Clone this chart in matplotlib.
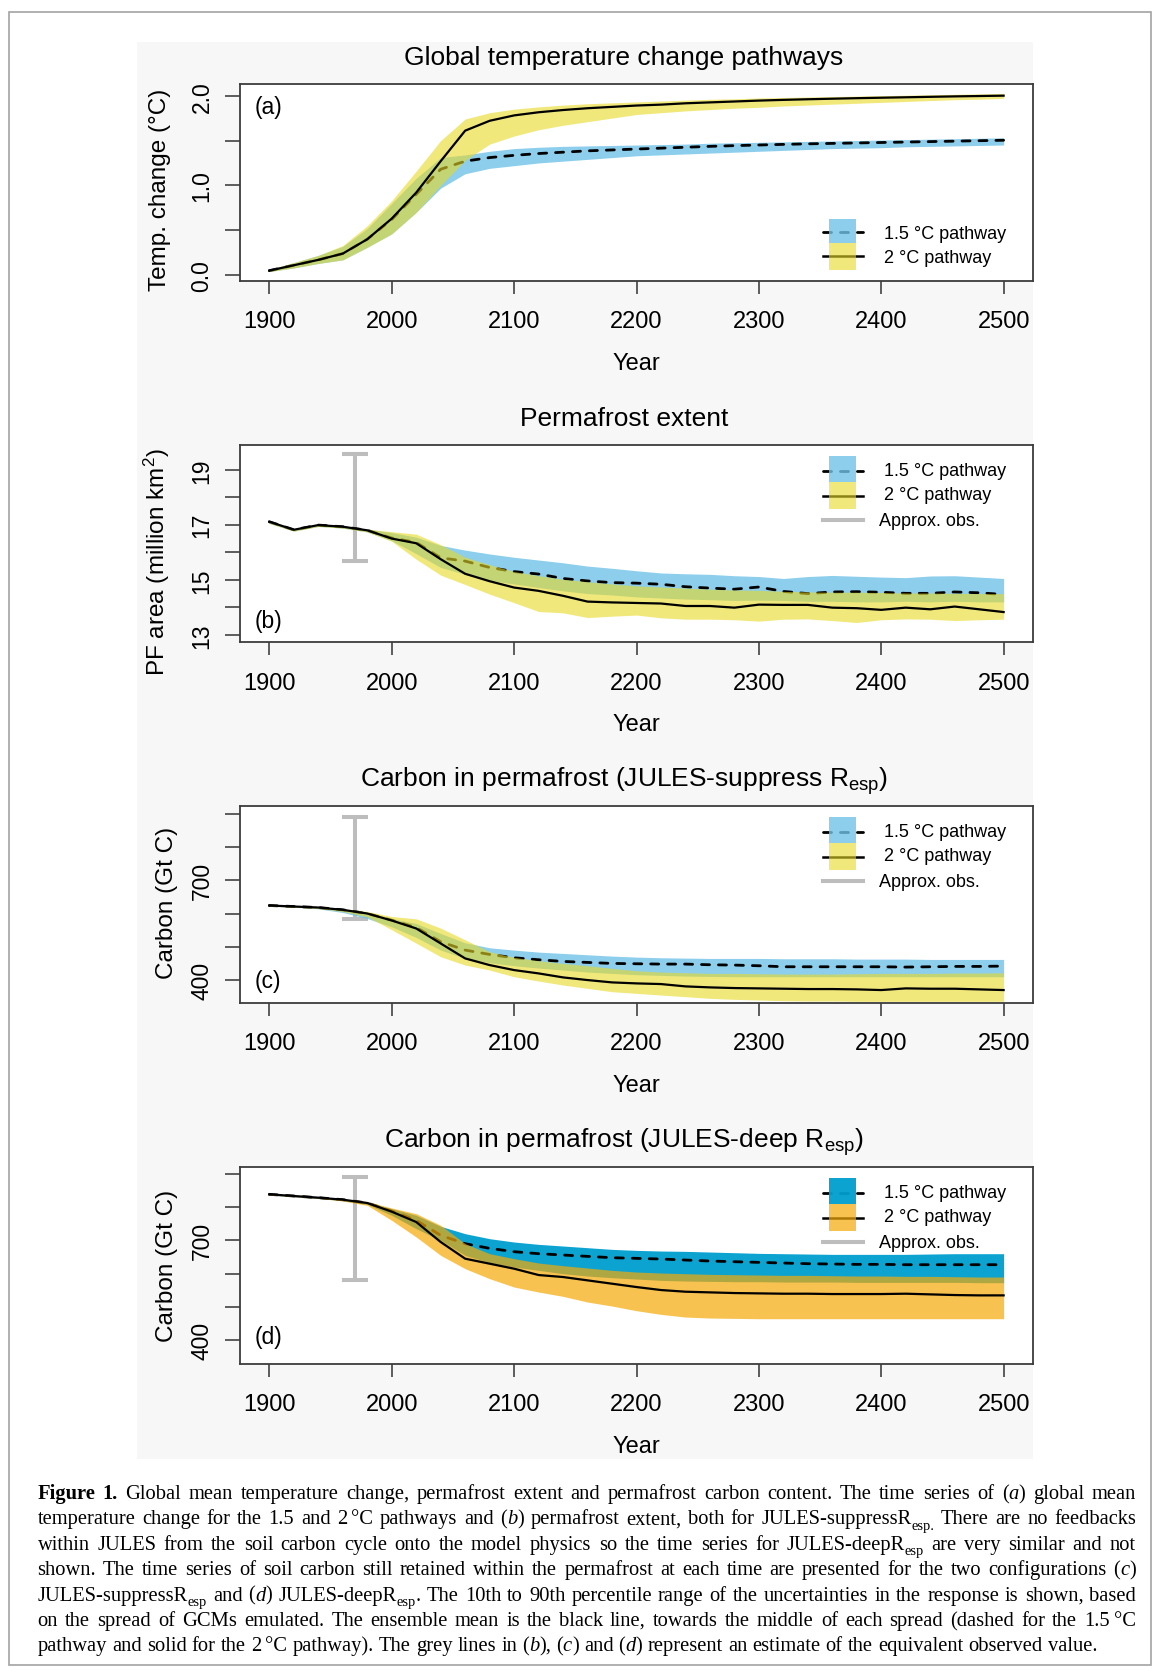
import re
import matplotlib
matplotlib.use("Agg")
import matplotlib.pyplot as plt
from matplotlib.patches import Rectangle

plt.rcParams['font.family'] = ['Liberation Sans', 'DejaVu Sans']
plt.rcParams['mathtext.fontset'] = 'custom'
plt.rcParams['mathtext.rm'] = 'Liberation Sans'
plt.rcParams['mathtext.it'] = 'Liberation Sans:italic'
plt.rcParams['mathtext.bf'] = 'Liberation Sans:bold'

W, H = 1152, 1674

# ---------------- data ----------------
years = [1900, 1920, 1940, 1960, 1980, 2000, 2020, 2040, 2060, 2080, 2100,
         2120, 2140, 2160, 2180, 2200, 2220, 2240, 2260, 2280, 2300,
         2320, 2340, 2360, 2380, 2400, 2420, 2440, 2460, 2480, 2500]

# (a) global temperature change (deg C)
temp_20_mean = [0.05, 0.11, 0.17, 0.24, 0.40, 0.63, 0.92, 1.27, 1.61, 1.72, 1.78,
                1.815, 1.84, 1.86, 1.875, 1.89, 1.90, 1.915, 1.925, 1.935, 1.945,
                1.953, 1.96, 1.966, 1.972, 1.977, 1.982, 1.987, 1.992, 1.996, 2.0]
temp_20_low = [0.04, 0.08, 0.13, 0.17, 0.31, 0.46, 0.70, 1.00, 1.28, 1.46, 1.55,
               1.62, 1.67, 1.71, 1.75, 1.79, 1.81, 1.83, 1.845, 1.86, 1.87,
               1.885, 1.895, 1.905, 1.915, 1.925, 1.935, 1.945, 1.955, 1.96, 1.97]
temp_20_high = [0.06, 0.14, 0.22, 0.33, 0.55, 0.83, 1.16, 1.50, 1.74, 1.81, 1.85,
                1.875, 1.895, 1.91, 1.92, 1.93, 1.94, 1.95, 1.96, 1.965, 1.975,
                1.98, 1.985, 1.99, 1.995, 2.0, 2.005, 2.01, 2.015, 2.02, 2.025]
temp_15_mean = [0.05, 0.11, 0.17, 0.24, 0.40, 0.62, 0.90, 1.18, 1.27, 1.31, 1.335,
                1.355, 1.37, 1.385, 1.395, 1.405, 1.415, 1.425, 1.435, 1.443, 1.45,
                1.457, 1.463, 1.468, 1.473, 1.478, 1.483, 1.488, 1.493, 1.498, 1.503]
temp_15_low = [0.04, 0.08, 0.13, 0.17, 0.31, 0.46, 0.70, 0.97, 1.13, 1.19, 1.22,
               1.25, 1.27, 1.29, 1.31, 1.33, 1.34, 1.35, 1.36, 1.37, 1.38,
               1.39, 1.40, 1.41, 1.415, 1.42, 1.43, 1.435, 1.44, 1.445, 1.45]
temp_15_high = [0.06, 0.14, 0.22, 0.32, 0.52, 0.80, 1.08, 1.31, 1.34, 1.38, 1.41,
                1.425, 1.435, 1.44, 1.445, 1.45, 1.455, 1.46, 1.47, 1.475, 1.48,
                1.485, 1.49, 1.495, 1.50, 1.505, 1.51, 1.515, 1.52, 1.525, 1.53]

# (b) permafrost area (million km2)
pf_20_mean = [17.11, 16.82, 16.99, 16.93, 16.80, 16.50, 16.33, 15.75, 15.22, 14.95, 14.72,
              14.60, 14.42, 14.21, 14.18, 14.16, 14.14, 14.05, 14.05, 13.99, 14.10,
              14.09, 14.09, 13.99, 13.97, 13.91, 13.99, 13.93, 14.03, 13.93, 13.83]
pf_20_low = [17.05, 16.77, 16.94, 16.88, 16.74, 16.40, 15.75, 15.17, 14.83, 14.48, 14.17,
             13.85, 13.80, 13.63, 13.68, 13.72, 13.62, 13.57, 13.57, 13.55, 13.50,
             13.57, 13.58, 13.52, 13.45, 13.55, 13.58, 13.57, 13.52, 13.55, 13.57]
pf_20_high = [17.13, 16.85, 17.02, 16.97, 16.84, 16.75, 16.66, 16.28, 15.82, 15.55, 15.30,
              15.15, 15.02, 14.93, 14.85, 14.78, 14.74, 14.70, 14.66, 14.63, 14.62,
              14.58, 14.56, 14.55, 14.55, 14.54, 14.52, 14.52, 14.51, 14.50, 14.50]
pf_15_mean = [17.11, 16.82, 16.99, 16.93, 16.80, 16.52, 16.36, 15.80, 15.68, 15.45, 15.30,
              15.21, 15.05, 14.96, 14.90, 14.88, 14.84, 14.75, 14.70, 14.66, 14.74,
              14.58, 14.50, 14.56, 14.57, 14.55, 14.51, 14.51, 14.56, 14.53, 14.47]
pf_15_low = [17.05, 16.77, 16.94, 16.88, 16.74, 16.42, 15.95, 15.45, 15.20, 14.98, 14.85,
             14.72, 14.60, 14.50, 14.45, 14.38, 14.34, 14.30, 14.28, 14.25, 14.26,
             14.25, 14.22, 14.22, 14.20, 14.20, 14.22, 14.20, 14.22, 14.20, 14.20]
pf_15_high = [17.13, 16.85, 17.02, 16.97, 16.84, 16.72, 16.55, 16.25, 16.08, 15.94, 15.82,
              15.72, 15.62, 15.50, 15.42, 15.33, 15.25, 15.22, 15.20, 15.15, 15.12,
              15.05, 15.12, 15.16, 15.13, 15.10, 15.08, 15.14, 15.15, 15.10, 15.05]

# (c) carbon in permafrost, JULES-suppress Resp (Gt C)
csup_20_mean = [624, 621, 618, 611, 600, 579, 555, 510, 465, 445, 430,
                420, 408, 400, 393, 390, 388, 381, 378, 376, 375,
                374, 373, 373, 372, 370, 375, 374, 374, 372, 370]
csup_20_low = [622, 619, 615, 606, 590, 551, 511, 470, 445, 430, 410,
               397, 385, 375, 365, 360, 355, 350, 345, 342, 340,
               338, 337, 337, 336, 336, 336, 336, 336, 336, 336]
csup_20_high = [626, 623, 620, 614, 606, 591, 584, 556, 521, 485, 468,
                458, 450, 443, 435, 428, 424, 422, 420, 420, 419,
                418, 418, 418, 419, 420, 420, 420, 421, 421, 422]
csup_15_mean = [624, 621, 618, 611, 600, 580, 558, 515, 490, 477, 467,
                461, 456, 453, 450, 449, 448, 448, 446, 445, 443,
                440, 440, 440, 440, 440, 439, 440, 441, 441, 442]
csup_15_low = [622, 619, 614, 603, 585, 560, 528, 490, 465, 452, 443,
               436, 430, 424, 420, 416, 414, 412, 411, 410, 410,
               410, 410, 410, 410, 410, 410, 410, 410, 410, 410]
csup_15_high = [626, 623, 620, 613, 603, 585, 570, 540, 512, 497, 490,
                484, 480, 476, 472, 469, 467, 466, 465, 465, 465,
                464, 464, 464, 463, 463, 463, 462, 462, 462, 462]

# (d) carbon in permafrost, JULES-deep Resp (Gt C)
cdeep_20_mean = [838, 833, 828, 822, 812, 786, 755, 695, 645, 630, 615,
                 596, 590, 580, 570, 560, 551, 546, 544, 542, 541,
                 540, 540, 539, 539, 539, 540, 538, 536, 535, 535]
cdeep_20_low = [836, 831, 826, 818, 805, 760, 710, 655, 615, 585, 560,
                545, 532, 515, 503, 489, 478, 470, 467, 466, 465,
                465, 465, 465, 465, 465, 465, 465, 465, 465, 465]
cdeep_20_high = [840, 835, 830, 825, 816, 797, 780, 745, 690, 660, 645,
                 632, 624, 617, 610, 605, 602, 600, 598, 597, 596,
                 595, 595, 594, 593, 593, 592, 592, 591, 590, 590]
cdeep_15_mean = [838, 833, 828, 822, 812, 788, 760, 715, 690, 676, 666,
                 660, 656, 652, 648, 646, 644, 641, 638, 636, 634,
                 632, 630, 629, 628, 628, 627, 627, 627, 627, 627]
cdeep_15_low = [836, 831, 826, 819, 808, 775, 735, 700, 655, 633, 620,
                610, 600, 593, 588, 584, 580, 578, 577, 576, 576,
                575, 575, 575, 574, 574, 574, 574, 574, 573, 573]
cdeep_15_high = [840, 835, 830, 824, 815, 795, 775, 742, 720, 705, 695,
                 688, 683, 678, 673, 670, 668, 667, 665, 663, 661,
                 660, 659, 658, 658, 658, 658, 659, 660, 660, 660]

# approximate observations (year, low, high)
obs_year = 1970
pf_obs = [15.67, 19.57]
carbon_obs = [582, 891]

x_ticks = [1900, 2000, 2100, 2200, 2300, 2400, 2500]
x_labels = ['1900', '2000', '2100', '2200', '2300', '2400', '2500']

titles = ["Global temperature change pathways",
          "Permafrost extent",
          r"Carbon in permafrost (JULES-suppress R$_{\mathrm{esp}}$)",
          r"Carbon in permafrost (JULES-deep R$_{\mathrm{esp}}$)"]
ylabels = ["Temp. change (\u00b0C)", r"PF area (million km$^2$)",
           "Carbon (Gt C)", "Carbon (Gt C)"]
panel_tags = ["(a)", "(b)", "(c)", "(d)"]
legend_labels = ["1.5 \u00b0C pathway", "2 \u00b0C pathway", "Approx. obs."]

caption_lines = [
    "**Figure** **1.** Global mean temperature change, permafrost extent and permafrost carbon content. The time series of (*a*) global mean",
    "temperature change for the 1.5 and 2~\u00b0C pathways and (*b*) permafrost extent, both for JULES-suppressR_{esp.} There are no feedbacks",
    "within JULES from the soil carbon cycle onto the model physics so the time series for JULES-deepR_{esp} are very similar and not",
    "shown. The time series of soil carbon still retained within the permafrost at each time are presented for the two configurations (*c*)",
    "JULES-suppressR_{esp} and (*d*) JULES-deepR_{esp}. The 10th to 90th percentile range of the uncertainties in the response is shown, based",
    "on the spread of GCMs emulated. The ensemble mean is the black line, towards the middle of each spread (dashed for the 1.5~\u00b0C",
    "pathway and solid for the 2~\u00b0C pathway). The grey lines in (*b*), (*c*) and (*d*) represent an estimate of the equivalent observed value.",
]

# ---------------- layout ----------------
fig = plt.figure(figsize=(W / 100, H / 100), dpi=100)
fig.patch.set_facecolor('white')


def fx(x):
    return x / W


def fy(y):
    return 1 - y / H


# outer frame and the light grey plotting region
fig.add_artist(Rectangle((fx(8.5), fy(1665.5)), (1151 - 8.5) / W, (1665.5 - 12.8) / H,
                         transform=fig.transFigure, fill=False, ec='#a3a3a3', lw=1.2, zorder=-2))
fig.add_artist(Rectangle((fx(136.7), fy(1460)), (1033 - 136.7) / W, (1460 - 42.7) / H,
                         transform=fig.transFigure, fc='#f7f7f7', ec='none', zorder=-1))

AX_L, AX_W, AX_H = 240, 793, 196.5
tops = [85, 446, 807, 1168]
ylims = [(-0.06, 2.13), (12.76, 19.9), (332.6, 923), (330.7, 920)]
yticks = [[0, 0.5, 1.0, 1.5, 2.0], [13, 14, 15, 16, 17, 18, 19],
          [400, 500, 600, 700, 800, 900], [400, 500, 600, 700, 800, 900]]
ytick_labels = [['0.0', '', '1.0', '', '2.0'], ['13', '', '15', '', '17', '', '19'],
                ['400', '', '', '700', '', ''], ['400', '', '', '700', '', '']]
ylabel_centers = [105, 116, 96, 98]
ylabel_baseline_x = [166, 165, 173, 173]
tag_y = [0.887, 0.105, 0.113, 0.135]

light_blue, light_yellow = '#6fc2e7', '#e9d925'
deep_blue, orange = '#009ecf', '#f5a905'
band_styles = [
    (light_blue, 0.8, light_yellow, 0.6),
    (light_blue, 0.8, light_yellow, 0.6),
    (light_blue, 0.8, light_yellow, 0.6),
    (deep_blue, 0.95, orange, 0.7),
]
series = [
    (temp_15_low, temp_15_high, temp_15_mean, temp_20_low, temp_20_high, temp_20_mean),
    (pf_15_low, pf_15_high, pf_15_mean, pf_20_low, pf_20_high, pf_20_mean),
    (csup_15_low, csup_15_high, csup_15_mean, csup_20_low, csup_20_high, csup_20_mean),
    (cdeep_15_low, cdeep_15_high, cdeep_15_mean, cdeep_20_low, cdeep_20_high, cdeep_20_mean),
]
obs_ranges = [None, pf_obs, carbon_obs, carbon_obs]

DASH = (2.9, 3.2)
GREY = '#bdbdbd'


def ax_pt(ax_px_x, ax_px_y):
    return ax_px_x / AX_W, 1 - ax_px_y / AX_H


def draw_legend(ax, rows, with_obs, c15, a15, c20, a20):
    (r1, r2, l1, l2, t1, t2, gl, t3) = rows
    x0, _ = ax_pt(583.3, 0)
    x1, _ = ax_pt(622.7, 0)
    # line samples first, boxes over them
    ax.plot([x0, x1], [ax_pt(0, l1)[1]] * 2, color='black', lw=2.0, dashes=DASH,
            dash_capstyle='round', transform=ax.transAxes, clip_on=False, zorder=6)
    ax.plot([x0, x1], [ax_pt(0, l2)[1]] * 2, color='black', lw=1.8,
            transform=ax.transAxes, clip_on=False, zorder=6)
    rx, _ = ax_pt(589, 0)
    rw = 27 / AX_W
    ax.add_patch(Rectangle((rx, ax_pt(0, r1[1])[1]), rw, (r1[1] - r1[0]) / AX_H,
                           transform=ax.transAxes, fc=c15, alpha=a15, ec='none', zorder=7))
    ax.add_patch(Rectangle((rx, ax_pt(0, r2[1])[1]), rw, (r2[1] - r2[0]) / AX_H,
                           transform=ax.transAxes, fc=c20, alpha=a20, ec='none', zorder=7))
    tx, _ = ax_pt(644.5, 0)
    ax.text(tx, ax_pt(0, t1)[1], legend_labels[0], transform=ax.transAxes,
            fontsize=13, va='baseline', ha='left', zorder=8)
    ax.text(tx, ax_pt(0, t2)[1], legend_labels[1], transform=ax.transAxes,
            fontsize=13, va='baseline', ha='left', zorder=8)
    if with_obs:
        ax.plot([x0, x1], [ax_pt(0, gl)[1]] * 2, color=GREY, lw=2.9,
                transform=ax.transAxes, clip_on=False, zorder=6)
        ox, _ = ax_pt(639, 0)
        ax.text(ox, ax_pt(0, t3)[1], legend_labels[2], transform=ax.transAxes,
                fontsize=13, va='baseline', ha='left', zorder=8)


legend_rows_bottom = ((135, 159), (159, 185.7), 147.7, 172.3, 154, 178, None, None)
legend_rows_top = ((11.3, 37.3), (37.3, 64), 26.3, 50.7, 29.6, 53.6, 74.7, 80.3)

for i in range(4):
    top = tops[i]
    ax = fig.add_axes([fx(AX_L), fy(top + AX_H), AX_W / W, AX_H / H])
    ax.set_facecolor('white')
    lo15, hi15, m15, lo20, hi20, m20 = series[i]
    c15, a15, c20, a20 = band_styles[i]

    if obs_ranges[i] is not None:
        lo, hi = obs_ranges[i]
        ax.plot([obs_year, obs_year], [lo, hi], color=GREY, lw=2.9, solid_capstyle='butt', zorder=1.5)
        ax.plot([obs_year - 11, obs_year + 11], [lo, lo], color=GREY, lw=2.9, solid_capstyle='butt', zorder=1.5)
        ax.plot([obs_year - 11, obs_year + 11], [hi, hi], color=GREY, lw=2.9, solid_capstyle='butt', zorder=1.5)

    ax.fill_between(years, lo15, hi15, color=c15, alpha=a15, lw=0, zorder=2)
    ax.plot(years, m15, color='black', lw=2.0, dashes=DASH, dash_capstyle='round', zorder=3)
    ax.fill_between(years, lo20, hi20, color=c20, alpha=a20, lw=0, zorder=4)
    ax.plot(years, m20, color='black', lw=1.6, zorder=5)

    ax.set_xlim(1876, 2524)
    ax.set_ylim(*ylims[i])
    ax.set_xticks(x_ticks, x_labels, fontsize=17)
    ax.set_yticks(yticks[i], ytick_labels[i], fontsize=16.5, rotation=90, va='center')
    ax.tick_params(axis='x', length=9.6, width=1.1, color='#333333', pad=12)
    ax.tick_params(axis='y', length=10.5, width=1.1, color='#333333', pad=8.6)
    for sp in ax.spines.values():
        sp.set_color('#3c3c3c')
        sp.set_linewidth(1.3)

    ax.text(15 / AX_W, tag_y[i], panel_tags[i], transform=ax.transAxes,
            fontsize=16.5, ha='left', va='center')

    if i == 0:
        draw_legend(ax, legend_rows_bottom, False, c15, a15, c20, a20)
    else:
        draw_legend(ax, legend_rows_top, True, c15, a15, c20, a20)

    fig.text(fx(624), fy(top - 20), titles[i], fontsize=19, ha='center', va='baseline')
    fig.text(fx(636), fy(top + AX_H + 89), "Year", fontsize=17, ha='center', va='baseline')
    fig.text(fx(ylabel_baseline_x[i]), fy(top + ylabel_centers[i]), ylabels[i], fontsize=17.5,
             rotation=90, rotation_mode='anchor', ha='center', va='baseline')

# ---------------- caption (justified) ----------------
SERIF = ['Liberation Serif', 'DejaVu Serif']
renderer = fig.canvas.get_renderer()
TOK = re.compile(r"\*\*(.+?)\*\*|\*(.+?)\*|_\{(.+?)\}|(~)|([^*_~]+)")


def parse_word(word):
    segs = []
    for m in TOK.finditer(word):
        if m.group(1):
            segs.append((m.group(1), 'bold'))
        elif m.group(2):
            segs.append((m.group(2), 'italic'))
        elif m.group(3):
            segs.append((m.group(3), 'sub'))
        elif m.group(4):
            segs.append(('', 'thin'))
        else:
            segs.append((m.group(5), 'normal'))
    return segs


def seg_kw(style, size):
    kw = dict(family=SERIF, fontsize=size)
    if style == 'bold':
        kw['fontweight'] = 'bold'
    elif style == 'italic':
        kw['fontstyle'] = 'italic'
    elif style == 'sub':
        kw['fontsize'] = size * 0.7
    return kw


def text_w(s, kw):
    t = fig.text(0, 0, s, **kw)
    w = t.get_window_extent(renderer).width
    t.remove()
    return w


def seg_w(seg, size):
    s, style = seg
    if style == 'thin':
        return size * 0.2 * 100 / 72
    return text_w(s, seg_kw(style, size))


CAP_X0, CAP_X1 = 37.5, 1136
CAP_W = CAP_X1 - CAP_X0
parsed = [[parse_word(w) for w in line.split(' ')] for line in caption_lines]

probe = 10.0
sp_probe = text_w('a a', dict(family=SERIF, fontsize=probe)) - text_w('aa', dict(family=SERIF, fontsize=probe))
nat = max(sum(seg_w(s, probe) for w in line for s in w) + sp_probe * (len(line) - 1) for line in parsed)
cap_size = min(probe * CAP_W * 0.99 / nat, 15.5)
space_w = text_w('a a', dict(family=SERIF, fontsize=cap_size)) - text_w('aa', dict(family=SERIF, fontsize=cap_size))
sub_drop = cap_size * 100 / 72 * 0.25

for li, line in enumerate(parsed):
    base = 1499 + li * 25.4
    widths = [[seg_w(s, cap_size) for s in w] for w in line]
    total = sum(sum(ws) for ws in widths)
    if li < len(parsed) - 1:
        gap = (CAP_W - total) / (len(line) - 1)
    else:
        gap = space_w
    x = CAP_X0
    for w, ws in zip(line, widths):
        for (s, style), sw in zip(w, ws):
            if style != 'thin':
                yy = base + (sub_drop if style == 'sub' else 0)
                fig.text(fx(x), fy(yy), s, ha='left', va='baseline', **seg_kw(style, cap_size))
            x += sw
        x += gap

fig.savefig('out.png', dpi=100)
